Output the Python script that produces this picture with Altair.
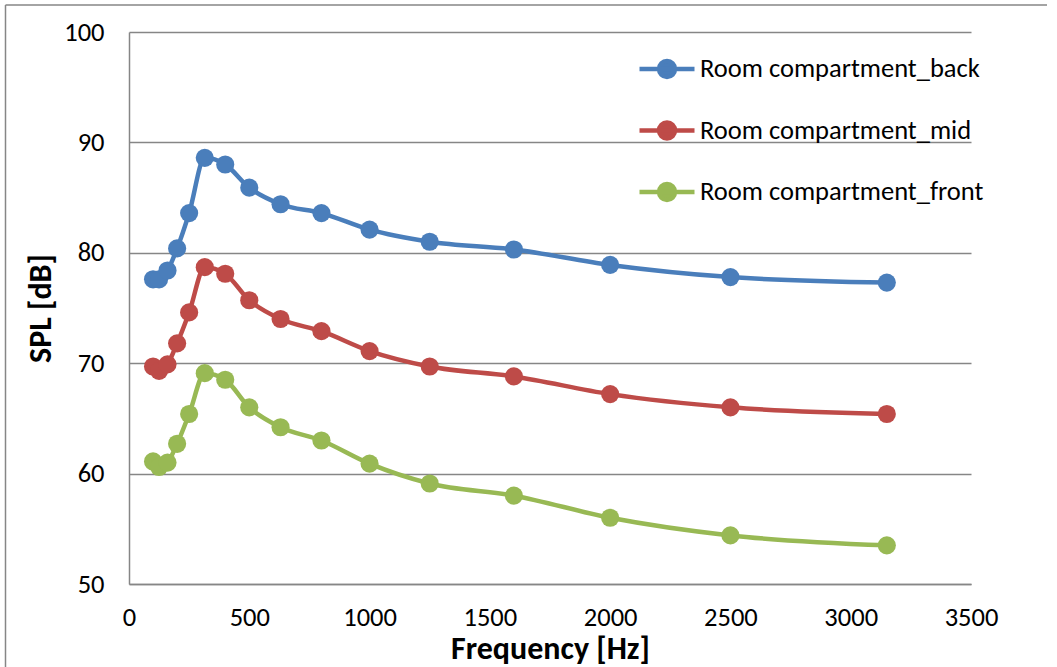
import altair as alt
import pandas as pd

freq = [100, 125, 160, 200, 250, 315, 400, 500, 630, 800, 1000, 1250, 1600, 2000, 2500, 3150]
back = [77.6, 77.6, 78.4, 80.4, 83.6, 88.6, 88.0, 85.9, 84.4, 83.6, 82.1, 81.0, 80.3, 78.9, 77.8, 77.3]
mid = [69.7, 69.3, 69.9, 71.8, 74.6, 78.7, 78.1, 75.7, 74.0, 72.9, 71.1, 69.7, 68.8, 67.2, 66.0, 65.4]
front = [61.1, 60.6, 61.0, 62.7, 65.4, 69.1, 68.5, 66.0, 64.2, 63.0, 60.9, 59.1, 58.0, 56.0, 54.4, 53.5]

series_names = ["Room compartment_back", "Room compartment_mid", "Room compartment_front"]
series_colors = ["#4A7EBB", "#BE4B48", "#98B954"]
x_ticks = [0, 500, 1000, 1500, 2000, 2500, 3000, 3500]
y_ticks = [50, 60, 70, 80, 90, 100]

rows = []
for name, vals in zip(series_names, [back, mid, front]):
    for f, v in zip(freq, vals):
        rows.append({"freq": f, "spl": v, "series": name})
df = pd.DataFrame(rows)

FONT = "Carlito, Calibri, 'Open Sans', sans-serif"
GRID = "#868686"

sym_path = "M-1,0H1M0.29,0A0.29,0.29,0,1,1,-0.29,0A0.29,0.29,0,1,1,0.29,0Z"

color = alt.Color(
    "series:N",
    scale=alt.Scale(domain=series_names, range=series_colors),
    legend=alt.Legend(
        title=None,
        orient="none",
        legendX=508,
        legendY=7,
        symbolType=sym_path,
        symbolSize=3025,
        symbolStrokeWidth=4.5,
        symbolOpacity=1,
        labelFont=FONT,
        labelFontSize=26.5,
        labelColor="#000000",
        labelOffset=3,
        rowPadding=14.5,
        padding=0,
        labelLimit=400,
    ),
)

x = alt.X(
    "freq:Q",
    scale=alt.Scale(domain=[0, 3500], nice=False),
    axis=alt.Axis(
        values=x_ticks,
        title="Frequency [Hz]",
        grid=False,
        ticks=False,
        labelFlush=False,
        labelPadding=20,
        titlePadding=3,
        format="d",
    ),
)
y = alt.Y(
    "spl:Q",
    scale=alt.Scale(domain=[50, 100], nice=False, zero=False),
    axis=alt.Axis(
        values=y_ticks,
        title="SPL [dB]",
        grid=True,
        ticks=False,
        labelFlush=False,
        labelPadding=25,
        titlePadding=6,
    ),
)

lines = alt.Chart(df).mark_line(interpolate="monotone", strokeWidth=4.5).encode(
    x=x, y=y, color=color
)
points = alt.Chart(df).mark_point(filled=True, size=330, opacity=1, shape="circle").encode(
    x=x, y=y, color=color
)

frame_data = alt.Data(values=[{"a": 1}])
frame_top = alt.Chart(frame_data).mark_rule(
    stroke=GRID, strokeWidth=1.5, clip=False
).encode(
    x=alt.value(5.5 - 129),
    x2=alt.value(1047 - 129),
    y=alt.value(5 - 32),
)
frame_left = alt.Chart(frame_data).mark_rule(
    stroke=GRID, strokeWidth=1.5, clip=False
).encode(
    x=alt.value(5.5 - 129),
    y=alt.value(5 - 32),
    y2=alt.value(690 - 32),
)

chart = alt.layer(frame_top, frame_left, lines, points).properties(
    width=842,
    height=552,
    autosize=alt.AutoSizeParams(type="none"),
    padding={"left": 129, "top": 32, "right": 86, "bottom": 83},
    background="white",
).configure_view(stroke=None).configure_axis(
    labelFont=FONT,
    labelFontSize=26.5,
    labelColor="#000000",
    titleFont=FONT,
    titleFontSize=32,
    titleFontWeight="bold",
    titleColor="#000000",
    domainColor=GRID,
    domainWidth=1.5,
    gridColor=GRID,
    gridWidth=1.5,
    gridOpacity=1,
)

chart.save("out.html", embed_options={"renderer": "svg", "actions": False})
